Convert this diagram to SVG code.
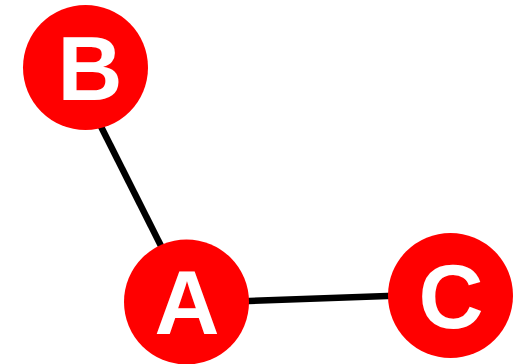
<svg xmlns="http://www.w3.org/2000/svg" width="515" height="364" viewBox="0 0 515 364">
<style>
.edge{stroke:#000;stroke-width:6.5;fill:none}
.node circle{fill:#ff0000}
.node text{fill:#fff;font-family:"Liberation Sans",Arial,sans-serif;font-weight:bold;font-size:90px;text-anchor:middle}
</style>
<rect width="515" height="364" fill="#fff"/>
<g id="edges">
<line class="edge" x1="71.3" y1="67.5" x2="189.2" y2="302"/>
<line class="edge" x1="186.5" y1="303.3" x2="450.5" y2="293.8"/>
</g>
<g id="node-B" class="node"><circle cx="85.5" cy="67.5" r="62.5"/><text x="90" y="100">B</text></g>
<g id="node-A" class="node"><circle cx="186.5" cy="302" r="62.5"/><text x="187" y="334">A</text></g>
<g id="node-C" class="node"><circle cx="450.5" cy="295.5" r="62.5"/><text x="451" y="328">C</text></g>
</svg>
